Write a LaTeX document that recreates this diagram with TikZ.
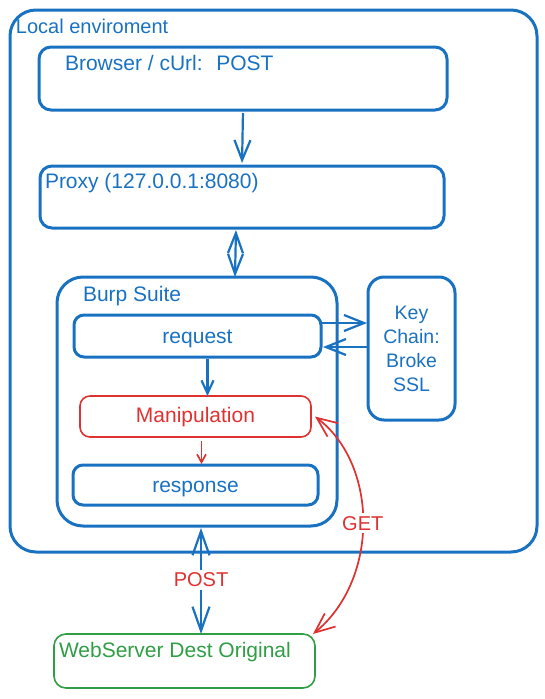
\documentclass[tikz,border=0pt]{standalone}
\usepackage{fontspec}
\setmainfont{Liberation Sans}
\usetikzlibrary{calc,positioning,arrows.meta}
\definecolor{exblue}{RGB}{25,113,194}
\definecolor{exred}{RGB}{224,49,49}
\definecolor{exgreen}{RGB}{47,158,68}

\begin{document}
\begin{tikzpicture}[
                x=1pt,y=-1pt,
                every node/.append style={inner sep=0pt,outer sep=0pt,text=exblue,font=\fontsize{21}{24}\selectfont},
                box/.style={draw=exblue,line width=3pt,rounded corners=12pt,anchor=north west},
                thinbox/.style={line width=1.6pt,rounded corners=10pt,anchor=north west},
                flow/.style={draw=exblue,line width=2.2pt,-{Straight Barb[length=20pt,width=16pt]}},
                dflow/.style={draw=exblue,line width=2.2pt,{Straight Barb[length=20pt,width=15pt]}-{Straight Barb[length=20pt,width=15pt]}},
                redflow/.style={draw=exred,line width=1.7pt,-{Straight Barb[length=8pt,width=9pt]}}
            ]
                \useasboundingbox (0,0) rectangle (545,699);
                \node (Env)  [box,rounded corners=26pt,minimum width=527pt,minimum height=542pt] at (10,10)  {};
                \node (Brw)  [box,minimum width=408pt,minimum height=63pt]  at (39,47)  {};
                \node (Prx)  [box,minimum width=404pt,minimum height=62pt]  at (40,166) {};
                \node (Burp) [box,rounded corners=26pt,minimum width=280pt,minimum height=249pt] at (57,277) {};
                \node (Req)  [box,rounded corners=10pt,minimum width=247pt,minimum height=42pt,
                              text height=14pt,text depth=0pt] at (74,315) {request};
                \node (Man)  [thinbox,draw=exred,text=exred,minimum width=231pt,minimum height=41pt,
                              text height=11pt,text depth=0pt] at (80,396) {Manipulation};
                \node (Res)  [box,rounded corners=10pt,minimum width=245pt,minimum height=40pt,
                              text height=14pt,text depth=0pt] at (73,465) {response};
                \node (Key)  [box,rounded corners=16pt,minimum width=87pt,minimum height=143pt,align=center,
                              font=\fontsize{19.5}{24}\selectfont] at (368,277) {Key\\Chain:\\Broke\\SSL};
                \node (Web)  [thinbox,draw=exgreen,rounded corners=12pt,minimum width=261pt,minimum height=54pt] at (54,634) {};
                % box titles
                \node (EnvT)  [anchor=base west,font=\fontsize{20}{24}\selectfont] at ($(Env.north west)+(6,23)$)  {Local enviroment};
                \node (BrwT)  [anchor=base west] at ($(Brw.north west)+(26,23)$)  {Browser / cUrl: \ POST};
                \node (PrxT)  [anchor=base west] at ($(Prx.north west)+(5,22)$)   {Proxy (127.0.0.1:8080)};
                \node (BurpT) [anchor=base west] at ($(Burp.north west)+(26,24)$) {Burp Suite};
                \node (WebT)  [anchor=base west,text=exgreen] at ($(Web.north west)+(5,23)$) {WebServer Dest Original};
                % connectors
                \draw[flow,shorten <=3pt,shorten >=3pt] (Brw.south) -- (Prx.north);
                \draw[dflow,shorten <=2pt] ([xshift=-6pt]Prx.south) -- ([xshift=38pt]Burp.north);
                \draw[flow,shorten >=1pt] ([yshift=13pt]Req.east) -- ([yshift=13pt]Req.east -| Key.west);
                \draw[flow,shorten <=1pt,shorten >=2pt] ([yshift=-11pt]Req.east -| Key.west) -- ([yshift=-11pt]Req.east);
                \draw[flow,-{Straight Barb[length=13pt,width=12pt]},shorten <=2pt] ([xshift=10pt]Req.south) -- ([xshift=10pt]Req.south |- Man.north);
                \draw[redflow,shorten <=4pt,shorten >=1pt] ([xshift=6pt]Man.south) -- ([xshift=6pt]Man.south |- Res.north);
                \draw[dflow,{Straight Barb[length=24pt,width=17pt]}-{Straight Barb[length=24pt,width=17pt]},shorten <=2pt]
                    ([xshift=4pt]Burp.south) -- ([xshift=4pt]Burp.south |- Web.north)
                    node (PostL) [midway,fill=white,text=exred,inner sep=3pt,font=\fontsize{20}{24}\selectfont] {POST};
                \draw[draw=exred,line width=1.7pt,{Straight Barb[length=20pt,width=17pt]}-{Straight Barb[length=20pt,width=17pt]}]
                    ([xshift=4pt]Man.east) .. controls (379,465) and (379,580) .. ([xshift=-2pt]Web.north east)
                    node (GetL) [pos=0.5,fill=white,text=exred,inner sep=3pt,font=\fontsize{20}{24}\selectfont] {GET};
            \end{tikzpicture}
\end{document}
